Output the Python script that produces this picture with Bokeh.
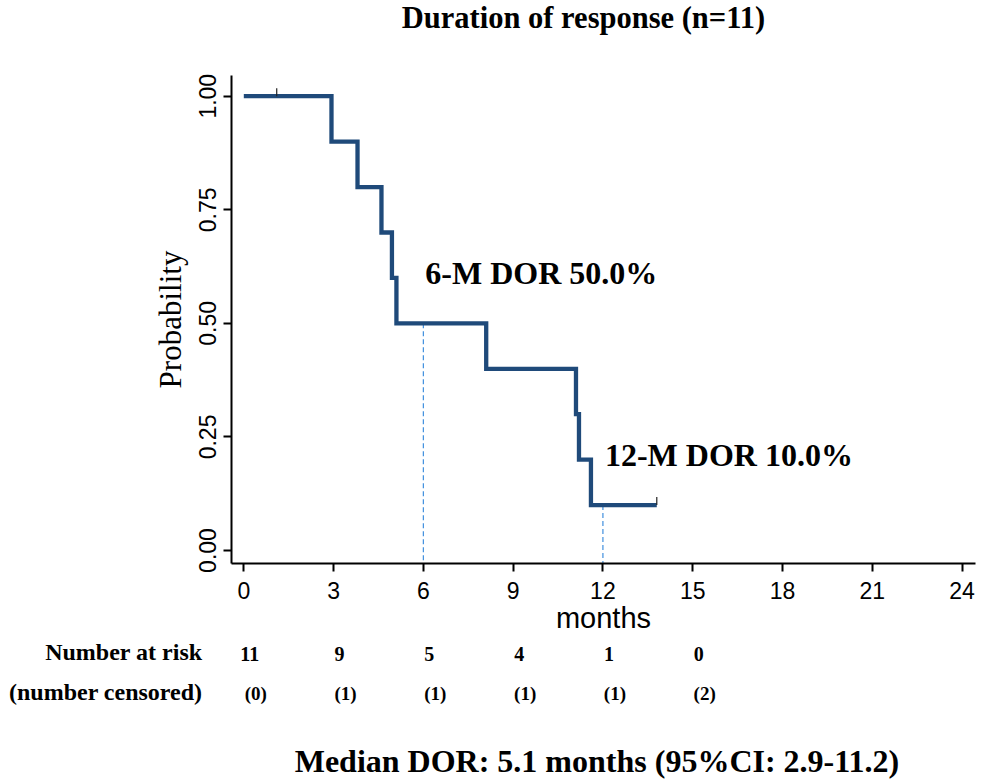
import math
from bokeh.plotting import figure
from bokeh.layouts import column
from bokeh.models import Range1d, FixedTicker
from bokeh.core.properties import value
from bokeh.embed import file_html
from bokeh.resources import INLINE

# ---------------- data ----------------
time_pts = [0, 2.93, 3.8, 4.6, 4.95, 5.1, 8.1, 11.1, 11.2, 11.6, 13.8]
surv_pts = [1.0, 0.9, 0.8, 0.7, 0.6, 0.5, 0.4, 0.3, 0.2, 0.1, 0.1]
censor_times = [1.1, 13.8]
censor_surv = [1.0, 0.1]

milestone_months = [6, 12]
milestone_surv = [0.5, 0.1]
milestone_labels = ["6-M DOR 50.0%", "12-M DOR 10.0%"]

x_ticks = [0, 3, 6, 9, 12, 15, 18, 21, 24]
y_ticks = [0, 0.25, 0.5, 0.75, 1.0]
y_tick_labels = ["0.00", "0.25", "0.50", "0.75", "1.00"]

risk_times = [0, 3, 6, 9, 12, 15]
n_at_risk = [11, 9, 5, 4, 1, 0]
n_censored = [0, 1, 1, 1, 1, 2]
risk_row_labels = ["Number at risk", "(number censored)"]

title_text = "Duration of response (n=11)"
median_text = "Median DOR: 5.1 months (95%CI: 2.9-11.2)"
median_x = 11.8

# ---------------- layout constants ----------------
W = 987
H_HEAD, H_MAIN, H_RISK = 40, 598, 145
B_LEFT, B_RIGHT, B_TOP, B_BOTTOM = 231, 12, 35, 75
X_MIN, X_MAX = -0.411, 24.45
Y_MIN, Y_MAX = -0.0286, 1.0456

CURVE = "#1f4a7a"
DASH = "#3f8fde"
SERIF = "Liberation Serif"
SANS = "Liberation Sans"

xr = Range1d(X_MIN, X_MAX)

# ---------------- header (title) ----------------
head = figure(width=W, height=H_HEAD, output_backend="svg", toolbar_location=None,
              x_range=xr, y_range=Range1d(H_HEAD, 0),
              x_axis_type=None, y_axis_type=None,
              min_border_left=B_LEFT, min_border_right=B_RIGHT,
              min_border_top=0, min_border_bottom=0)
head.outline_line_color = None
head.grid.visible = False
head.text(x=[(X_MIN + X_MAX) / 2], y=[17.5], text=[title_text], x_offset=-20,
          text_font=value(SERIF), text_font_style="bold", text_font_size="30.5px",
          text_align="center", text_baseline="middle", text_color="black")

# ---------------- main KM plot ----------------
p = figure(width=W, height=H_MAIN, output_backend="svg", toolbar_location=None,
           x_range=xr, y_range=Range1d(Y_MIN, Y_MAX),
           min_border_left=B_LEFT, min_border_right=B_RIGHT,
           min_border_top=B_TOP, min_border_bottom=B_BOTTOM)
p.outline_line_color = None
p.grid.visible = False
p.background_fill_color = "white"
p.border_fill_color = "white"

for ax in (p.xaxis[0], p.yaxis[0]):
    ax.axis_line_width = 2
    ax.axis_line_color = "black"
    ax.major_tick_line_width = 2
    ax.major_tick_line_color = "black"
    ax.major_tick_in = 0
    ax.major_tick_out = 8
    ax.minor_tick_line_color = None
    ax.major_label_text_font = SANS
    ax.major_label_text_font_size = "23px"
    ax.major_label_text_color = "black"
    ax.axis_label_text_font_style = "normal"
    ax.axis_label_text_color = "black"

p.xaxis.ticker = FixedTicker(ticks=x_ticks)
p.xaxis.major_label_standoff = 10
p.xaxis.major_label_text_line_height = 1.0
p.xaxis.axis_label = "months"
p.xaxis.axis_label_text_font = SANS
p.xaxis.axis_label_text_font_size = "29px"
p.xaxis.axis_label_text_line_height = 1.0
p.xaxis.axis_label_standoff = 0

p.yaxis.ticker = FixedTicker(ticks=y_ticks)
p.yaxis.major_label_overrides = dict(zip(y_ticks, y_tick_labels))
p.yaxis.major_label_orientation = "parallel"
p.yaxis.major_label_standoff = 7
p.yaxis.axis_label = "Probability"
p.yaxis.axis_label_text_font = SERIF
p.yaxis.axis_label_text_font_size = "31px"
p.yaxis.axis_label_standoff = 9

# milestone dashed lines
p.segment(x0=milestone_months, y0=milestone_surv,
          x1=milestone_months, y1=[Y_MIN] * len(milestone_months),
          line_color=DASH, line_width=1.2, line_dash="5 3")

# KM curve
p.step(time_pts, surv_pts, mode="after", line_color=CURVE, line_width=4.3,
       line_join="miter")

# censor marks
p.ray(x=censor_times, y=censor_surv, length=8, angle=math.pi / 2,
      length_units="screen", line_color="#222222", line_width=1.2)

# milestone annotations
p.text(x=milestone_months, y=milestone_surv, text=milestone_labels,
       x_offset=2, y_offset=-50, text_font=value(SERIF),
       text_font_style="bold", text_font_size="32px",
       text_baseline="middle", text_align="left", text_color="black")

# ---------------- risk table ----------------
SHIFT = 7
ROW1_MID, ROW2_MID = 6.7 + SHIFT, 46 + SHIFT
NUM1_MID, NUM2_MID = 8.7 + SHIFT, 47.5 + SHIFT
MEDIAN_MID = 115 + SHIFT

r = figure(width=W, height=H_RISK, output_backend="svg", toolbar_location=None,
           x_range=xr, y_range=Range1d(H_RISK, 0), x_axis_type=None,
           min_border_left=B_LEFT, min_border_right=B_RIGHT,
           min_border_top=0, min_border_bottom=0)
r.outline_line_color = None
r.grid.visible = False
r.background_fill_color = "white"
r.border_fill_color = "white"

ya = r.yaxis[0]
ya.ticker = FixedTicker(ticks=[ROW1_MID, ROW2_MID])
ya.major_label_overrides = {ROW1_MID: risk_row_labels[0], ROW2_MID: risk_row_labels[1]}
ya.axis_line_color = None
ya.major_tick_line_color = None
ya.minor_tick_line_color = None
ya.major_tick_in = 0
ya.major_tick_out = 0
ya.major_label_standoff = 29
ya.major_label_text_font = SERIF
ya.major_label_text_font_style = "bold"
ya.major_label_text_font_size = "24px"
ya.major_label_text_color = "black"

r.text(x=risk_times, y=[NUM1_MID] * len(risk_times), text=[str(v) for v in n_at_risk],
       x_offset=6, text_font=value(SERIF), text_font_style="bold",
       text_font_size="20px", text_align="center", text_baseline="middle",
       text_color="black")
r.text(x=risk_times, y=[NUM2_MID] * len(risk_times), text=[f"({v})" for v in n_censored],
       x_offset=12, text_font=value(SERIF), text_font_style="bold",
       text_font_size="19px", text_align="center", text_baseline="middle",
       text_color="black")
r.text(x=[median_x], y=[MEDIAN_MID], text=[median_text],
       text_font=value(SERIF), text_font_style="bold", text_font_size="32px",
       text_align="center", text_baseline="middle", text_color="black")

layout = column(head, p, r, spacing=0)
open("out.html", "w").write(file_html(layout, INLINE))
